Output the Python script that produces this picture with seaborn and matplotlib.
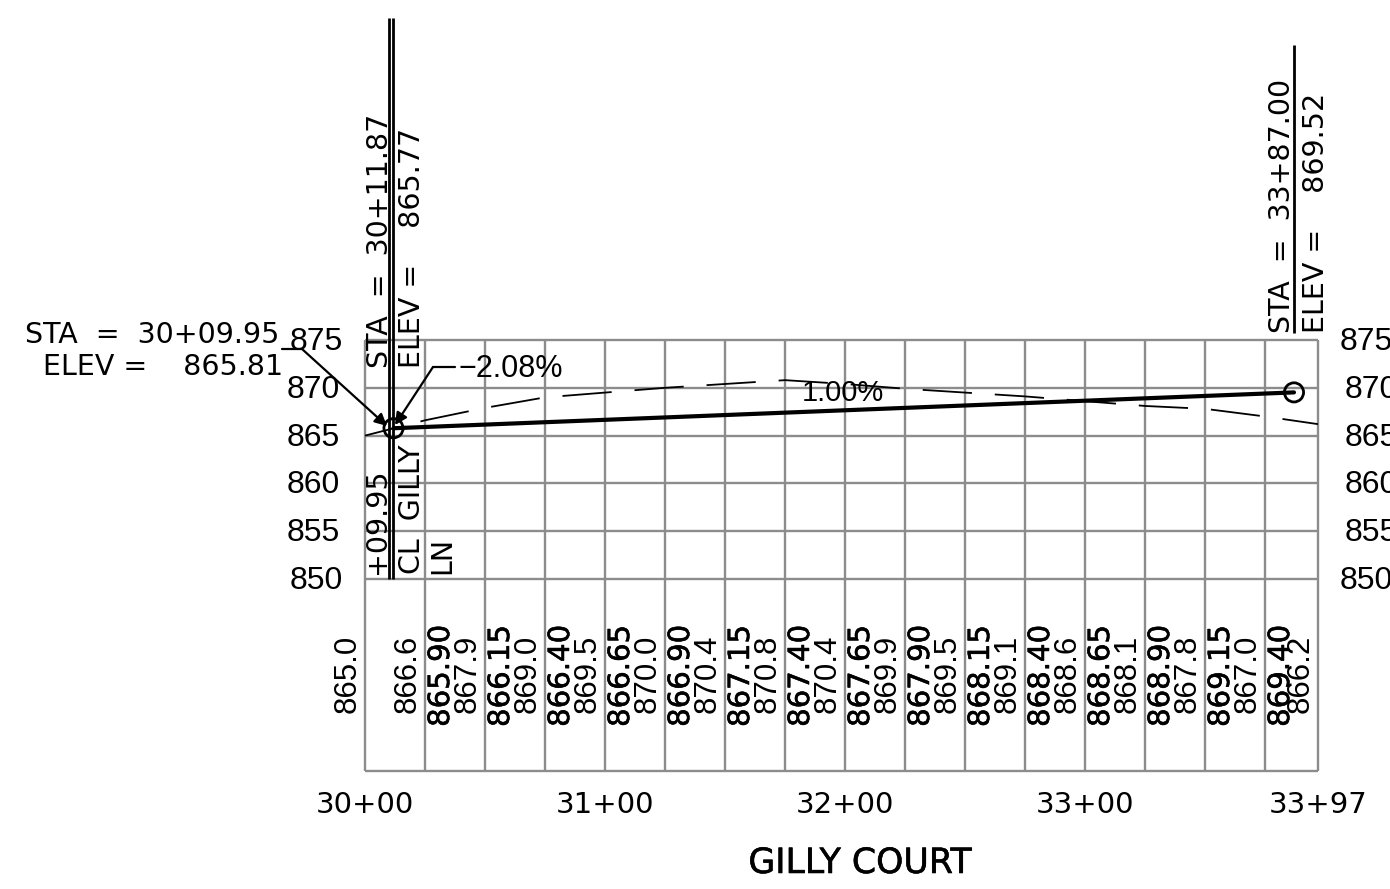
import matplotlib
matplotlib.use("Agg")
import matplotlib.pyplot as plt
import matplotlib.patheffects as pe
import seaborn as sns
from matplotlib.transforms import Affine2D

# station / elevation data
grid_sta = [3000, 3025, 3050, 3075, 3100, 3125, 3150, 3175, 3200, 3225,
            3250, 3275, 3300, 3325, 3350, 3375, 3397]
grid_elev = [850, 855, 860, 865, 870, 875]
existing_elev = [865.0, 866.6, 867.9, 869.0, 869.5, 870.0, 870.4, 870.8, 870.4,
                 869.9, 869.5, 869.1, 868.6, 868.1, 867.8, 867.0, 866.2]
proposed_labels = ["865.90", "866.15", "866.40", "866.65", "866.90", "867.15", "867.40", "867.65",
                   "867.90", "868.15", "868.40", "868.65", "868.90", "869.15", "869.40"]
grade_sta = [3011.87, 3387.00]
grade_elev = [865.77, 869.52]
rule_sta = [3009.95, 3011.87, 3387.00]
rule_top = [908.7, 908.7, 905.9]
rule_bottom = [850, 850, 875.7]
bottom_ticks = [3000, 3100, 3200, 3300, 3397]
bottom_labels = ["30+00", "31+00", "32+00", "33+00", "33+97"]

W, H = 1390, 889
TABLE_BOTTOM = 829.92
GRAY = "#8c8c8c"
THIN = "Liberation Sans"
HEAVY = "DejaVu Sans"

sns.set_theme(style="white")
plt.rcParams["lines.scale_dashes"] = False
fig = plt.figure(figsize=(W / 100, H / 100), dpi=100, facecolor="white")
ax = fig.add_axes([365 / W, (H - 771) / H, 953 / W, 431 / H])
ax.set_xlim(3000, 3397)
ax.set_ylim(TABLE_BOTTOM, 875)
ax.patch.set_alpha(0)
sns.despine(ax=ax, left=True, bottom=True)

# pixel coords measured from top-left, handy for the CAD labels
px = Affine2D().scale(1, -1).translate(0, H)


def label(x, y, s, size=23, family=THIN, rotation=0, ha="center", va="center", **kw):
    ax.text(x, y, s, transform=px, fontsize=size, family=family, rotation=rotation,
            ha=ha, va=va, color="black", clip_on=False, rotation_mode="anchor", **kw)


# grid and table
ax.hlines(grid_elev, 3000, 3397, color=GRAY, lw=1.7, zorder=1, clip_on=False)
ax.hlines(TABLE_BOTTOM, 3000, 3397, color=GRAY, lw=1.7, zorder=1, clip_on=False)
ax.vlines(grid_sta, TABLE_BOTTOM, 875, color=GRAY, lw=1.7, zorder=1, clip_on=False)

# existing ground, dashed
sns.lineplot(x=grid_sta, y=existing_elev, ax=ax, color="black", linewidth=1.3, errorbar=None, zorder=3)
ax.lines[-1].set_linestyle((10.8, (35.5, 16.5)))
ax.lines[-1].set_dash_capstyle("butt")

# proposed grade
sns.lineplot(x=grade_sta, y=grade_elev, ax=ax, color="black", linewidth=3.0, errorbar=None, zorder=4)
sns.scatterplot(x=grade_sta, y=grade_elev, ax=ax, s=190, facecolor="none", edgecolor="black",
                linewidth=2.0, zorder=5, clip_on=False)

# vertical station rules
ax.vlines(rule_sta, rule_bottom, rule_top, color="black", lw=2.0, zorder=4, clip_on=False)

# left and right elevation scale
left_x = {850: 343, 855: 340, 860: 340, 865: 340, 870: 340, 875: 343}
right_x = {850: 1340, 855: 1345, 860: 1345, 865: 1345, 870: 1345, 875: 1340}
for e in grid_elev:
    y = 342 + (875 - e) * 9.56
    label(left_x[e], y, str(e), ha="right")
    label(right_x[e], y, str(e), ha="left")

# table values
for i, (s, v) in enumerate(zip(grid_sta, existing_elev)):
    x = 365 + (s - 3000) * 2.4 - 17
    label(x, 674, f"{v:.1f}", rotation=90, size=22.5)
heavy = [pe.withStroke(linewidth=0.4, foreground="black")]
for i, s in enumerate(proposed_labels):
    label(441 + i * 60, 676, s, rotation=90, size=21, family=HEAVY, path_effects=heavy)

# bottom station labels
for s, t in zip(bottom_ticks, bottom_labels):
    label(365 + (s - 3000) * 2.4, 805, t, size=21, family=HEAVY)
label(860, 863, "GILLY COURT", size=25, family=HEAVY, path_effects=heavy)

# PVI / PVT callouts
label(25, 335, "STA  =  30+09.95", size=20.5, family=HEAVY, ha="left")
label(283, 367, "ELEV =    865.81", size=20.5, family=HEAVY, ha="right")
label(380, 368, "STA  =  30+11.87", size=20.5, family=HEAVY, rotation=90, ha="left")
label(412, 368, "ELEV =    865.77", size=20.5, family=HEAVY, rotation=90, ha="left")
label(377, 574, "+09.95", size=20.5, family=HEAVY, rotation=90, ha="left")
label(412, 574, "CL  GILLY", size=20.5, family=HEAVY, rotation=90, ha="left")
label(442, 574, "LN", size=20.5, family=HEAVY, rotation=90, ha="left")
label(1282, 333, "STA  =  33+87.00", size=20.5, family=HEAVY, rotation=90, ha="left")
label(1316, 333, "ELEV =    869.52", size=20.5, family=HEAVY, rotation=90, ha="left")
label(458, 369, "\u22122.08%", size=22, ha="left")
label(843, 393, "1.00%", size=21)

# leaders with arrowheads
for knee_a, knee_b, tip in [((282, 349), (302, 349), (387, 426)), ((455, 367), (433, 367), (395, 425))]:
    ax.plot([knee_a[0], knee_b[0]], [knee_a[1], knee_b[1]], transform=px, color="black", lw=1.6, clip_on=False, zorder=5)
    ax.annotate("", xy=tip, xytext=knee_b, xycoords=px, textcoords=px,
                arrowprops=dict(arrowstyle="-|>", color="black", lw=1.6, mutation_scale=18,
                                shrinkA=0, shrinkB=0), zorder=5)

ax.set_xticks([])
ax.set_yticks([])
ax.set_xlabel("")
ax.set_ylabel("")
fig.savefig("out.png", dpi=100)
